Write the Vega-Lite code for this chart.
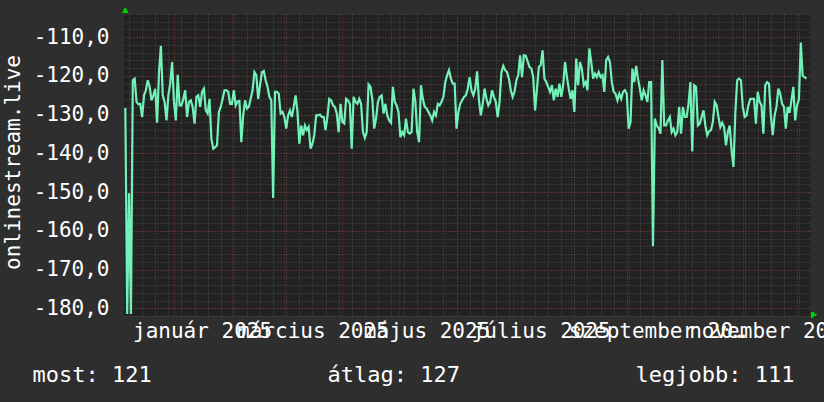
{
  "$schema": "https://vega.github.io/schema/vega-lite/v6.json",
  "width": 686,
  "height": 302,
  "autosize": "none",
  "padding": {"left": 124, "top": 14, "right": 14, "bottom": 86},
  "background": "#2e2e2e",
  "config": {
    "view": {"fill": "#222222", "stroke": null},
    "font": "DejaVu Sans Mono",
    "axis": {
      "labelFont": "DejaVu Sans Mono",
      "titleFont": "DejaVu Sans Mono",
      "labelColor": "#ffffff",
      "titleColor": "#ffffff",
      "labelFontSize": 21,
      "titleFontSize": 21,
      "titleFontWeight": "normal",
      "domain": false,
      "ticks": false
    }
  },
  "data": {
    "values": [
      {"date": "2024-12-06", "v": -128.3},
      {"date": "2024-12-07", "v": -181.5},
      {"date": "2024-12-08", "v": -150.3},
      {"date": "2024-12-09", "v": -181.5},
      {"date": "2024-12-10", "v": -121.1},
      {"date": "2024-12-11", "v": -120.7},
      {"date": "2024-12-12", "v": -126.7},
      {"date": "2024-12-13", "v": -127.3},
      {"date": "2024-12-14", "v": -127.2},
      {"date": "2024-12-15", "v": -130.6},
      {"date": "2024-12-16", "v": -125.0},
      {"date": "2024-12-17", "v": -123.7},
      {"date": "2024-12-18", "v": -121.1},
      {"date": "2024-12-19", "v": -122.8},
      {"date": "2024-12-20", "v": -126.3},
      {"date": "2024-12-21", "v": -125.0},
      {"date": "2024-12-22", "v": -123.3},
      {"date": "2024-12-23", "v": -132.1},
      {"date": "2024-12-24", "v": -119.0},
      {"date": "2024-12-25", "v": -112.2},
      {"date": "2024-12-26", "v": -125.0},
      {"date": "2024-12-27", "v": -126.7},
      {"date": "2024-12-28", "v": -131.5},
      {"date": "2024-12-29", "v": -125.0},
      {"date": "2024-12-30", "v": -122.0},
      {"date": "2024-12-31", "v": -116.4},
      {"date": "2025-01-01", "v": -126.7},
      {"date": "2025-01-02", "v": -131.5},
      {"date": "2025-01-03", "v": -119.7},
      {"date": "2025-01-04", "v": -127.6},
      {"date": "2025-01-05", "v": -127.6},
      {"date": "2025-01-06", "v": -125.9},
      {"date": "2025-01-07", "v": -123.7},
      {"date": "2025-01-08", "v": -130.6},
      {"date": "2025-01-09", "v": -126.7},
      {"date": "2025-01-10", "v": -126.3},
      {"date": "2025-01-11", "v": -128.0},
      {"date": "2025-01-12", "v": -132.3},
      {"date": "2025-01-13", "v": -125.4},
      {"date": "2025-01-14", "v": -125.0},
      {"date": "2025-01-15", "v": -128.0},
      {"date": "2025-01-16", "v": -124.1},
      {"date": "2025-01-17", "v": -123.3},
      {"date": "2025-01-18", "v": -128.9},
      {"date": "2025-01-19", "v": -129.7},
      {"date": "2025-01-20", "v": -125.9},
      {"date": "2025-01-21", "v": -136.2},
      {"date": "2025-01-22", "v": -138.8},
      {"date": "2025-01-23", "v": -138.4},
      {"date": "2025-01-24", "v": -137.9},
      {"date": "2025-01-25", "v": -129.3},
      {"date": "2025-01-26", "v": -128.0},
      {"date": "2025-01-27", "v": -125.9},
      {"date": "2025-01-28", "v": -123.7},
      {"date": "2025-01-29", "v": -123.7},
      {"date": "2025-01-30", "v": -124.1},
      {"date": "2025-01-31", "v": -127.2},
      {"date": "2025-02-01", "v": -127.2},
      {"date": "2025-02-02", "v": -123.7},
      {"date": "2025-02-03", "v": -127.6},
      {"date": "2025-02-04", "v": -126.6},
      {"date": "2025-02-05", "v": -126.5},
      {"date": "2025-02-06", "v": -137.1},
      {"date": "2025-02-07", "v": -130.2},
      {"date": "2025-02-08", "v": -126.3},
      {"date": "2025-02-09", "v": -128.4},
      {"date": "2025-02-10", "v": -128.0},
      {"date": "2025-02-11", "v": -125.9},
      {"date": "2025-02-12", "v": -123.7},
      {"date": "2025-02-13", "v": -119.0},
      {"date": "2025-02-14", "v": -119.8},
      {"date": "2025-02-15", "v": -125.9},
      {"date": "2025-02-16", "v": -122.4},
      {"date": "2025-02-17", "v": -119.0},
      {"date": "2025-02-18", "v": -118.7},
      {"date": "2025-02-19", "v": -121.1},
      {"date": "2025-02-20", "v": -122.8},
      {"date": "2025-02-21", "v": -125.4},
      {"date": "2025-02-22", "v": -126.3},
      {"date": "2025-02-23", "v": -151.5},
      {"date": "2025-02-24", "v": -124.1},
      {"date": "2025-02-25", "v": -124.1},
      {"date": "2025-02-26", "v": -124.6},
      {"date": "2025-02-27", "v": -129.7},
      {"date": "2025-02-28", "v": -129.3},
      {"date": "2025-03-01", "v": -130.6},
      {"date": "2025-03-02", "v": -133.6},
      {"date": "2025-03-03", "v": -130.2},
      {"date": "2025-03-04", "v": -128.9},
      {"date": "2025-03-05", "v": -130.6},
      {"date": "2025-03-06", "v": -128.0},
      {"date": "2025-03-07", "v": -125.0},
      {"date": "2025-03-08", "v": -129.3},
      {"date": "2025-03-09", "v": -137.5},
      {"date": "2025-03-10", "v": -132.8},
      {"date": "2025-03-11", "v": -135.3},
      {"date": "2025-03-12", "v": -132.8},
      {"date": "2025-03-13", "v": -134.0},
      {"date": "2025-03-14", "v": -133.2},
      {"date": "2025-03-15", "v": -138.8},
      {"date": "2025-03-16", "v": -137.5},
      {"date": "2025-03-17", "v": -135.3},
      {"date": "2025-03-18", "v": -130.2},
      {"date": "2025-03-19", "v": -130.2},
      {"date": "2025-03-20", "v": -130.0},
      {"date": "2025-03-21", "v": -130.6},
      {"date": "2025-03-22", "v": -130.6},
      {"date": "2025-03-23", "v": -134.0},
      {"date": "2025-03-24", "v": -130.6},
      {"date": "2025-03-25", "v": -125.9},
      {"date": "2025-03-26", "v": -126.3},
      {"date": "2025-03-27", "v": -127.6},
      {"date": "2025-03-28", "v": -128.0},
      {"date": "2025-03-29", "v": -129.7},
      {"date": "2025-03-30", "v": -134.5},
      {"date": "2025-03-31", "v": -127.2},
      {"date": "2025-04-01", "v": -131.9},
      {"date": "2025-04-02", "v": -132.3},
      {"date": "2025-04-03", "v": -125.9},
      {"date": "2025-04-04", "v": -126.3},
      {"date": "2025-04-05", "v": -127.2},
      {"date": "2025-04-06", "v": -138.8},
      {"date": "2025-04-07", "v": -125.4},
      {"date": "2025-04-08", "v": -126.7},
      {"date": "2025-04-09", "v": -127.2},
      {"date": "2025-04-10", "v": -125.9},
      {"date": "2025-04-11", "v": -127.2},
      {"date": "2025-04-12", "v": -134.5},
      {"date": "2025-04-13", "v": -136.0},
      {"date": "2025-04-14", "v": -134.5},
      {"date": "2025-04-15", "v": -122.2},
      {"date": "2025-04-16", "v": -122.8},
      {"date": "2025-04-17", "v": -125.9},
      {"date": "2025-04-18", "v": -133.6},
      {"date": "2025-04-19", "v": -131.0},
      {"date": "2025-04-20", "v": -126.7},
      {"date": "2025-04-21", "v": -125.4},
      {"date": "2025-04-22", "v": -125.0},
      {"date": "2025-04-23", "v": -129.7},
      {"date": "2025-04-24", "v": -127.2},
      {"date": "2025-04-25", "v": -130.2},
      {"date": "2025-04-26", "v": -131.5},
      {"date": "2025-04-27", "v": -132.1},
      {"date": "2025-04-28", "v": -122.8},
      {"date": "2025-04-29", "v": -126.7},
      {"date": "2025-04-30", "v": -127.6},
      {"date": "2025-05-01", "v": -129.3},
      {"date": "2025-05-02", "v": -135.8},
      {"date": "2025-05-03", "v": -134.5},
      {"date": "2025-05-04", "v": -135.3},
      {"date": "2025-05-05", "v": -131.0},
      {"date": "2025-05-06", "v": -134.5},
      {"date": "2025-05-07", "v": -134.9},
      {"date": "2025-05-08", "v": -134.5},
      {"date": "2025-05-09", "v": -123.3},
      {"date": "2025-05-10", "v": -126.7},
      {"date": "2025-05-11", "v": -134.5},
      {"date": "2025-05-12", "v": -137.1},
      {"date": "2025-05-13", "v": -122.4},
      {"date": "2025-05-14", "v": -125.9},
      {"date": "2025-05-15", "v": -128.0},
      {"date": "2025-05-16", "v": -128.4},
      {"date": "2025-05-17", "v": -129.3},
      {"date": "2025-05-18", "v": -130.2},
      {"date": "2025-05-19", "v": -131.5},
      {"date": "2025-05-20", "v": -129.3},
      {"date": "2025-05-21", "v": -130.2},
      {"date": "2025-05-22", "v": -127.2},
      {"date": "2025-05-23", "v": -127.6},
      {"date": "2025-05-24", "v": -126.7},
      {"date": "2025-05-25", "v": -125.4},
      {"date": "2025-05-26", "v": -121.6},
      {"date": "2025-05-27", "v": -119.8},
      {"date": "2025-05-28", "v": -118.5},
      {"date": "2025-05-29", "v": -120.7},
      {"date": "2025-05-30", "v": -122.0},
      {"date": "2025-05-31", "v": -122.0},
      {"date": "2025-06-01", "v": -133.6},
      {"date": "2025-06-02", "v": -129.3},
      {"date": "2025-06-03", "v": -127.2},
      {"date": "2025-06-04", "v": -126.3},
      {"date": "2025-06-05", "v": -125.4},
      {"date": "2025-06-06", "v": -125.0},
      {"date": "2025-06-07", "v": -123.3},
      {"date": "2025-06-08", "v": -120.3},
      {"date": "2025-06-09", "v": -123.7},
      {"date": "2025-06-10", "v": -125.0},
      {"date": "2025-06-11", "v": -123.3},
      {"date": "2025-06-12", "v": -118.8},
      {"date": "2025-06-13", "v": -126.3},
      {"date": "2025-06-14", "v": -130.2},
      {"date": "2025-06-15", "v": -127.2},
      {"date": "2025-06-16", "v": -123.3},
      {"date": "2025-06-17", "v": -125.9},
      {"date": "2025-06-18", "v": -127.6},
      {"date": "2025-06-19", "v": -126.7},
      {"date": "2025-06-20", "v": -123.7},
      {"date": "2025-06-21", "v": -125.4},
      {"date": "2025-06-22", "v": -126.7},
      {"date": "2025-06-23", "v": -130.6},
      {"date": "2025-06-24", "v": -126.7},
      {"date": "2025-06-25", "v": -119.0},
      {"date": "2025-06-26", "v": -117.4},
      {"date": "2025-06-27", "v": -118.5},
      {"date": "2025-06-28", "v": -119.0},
      {"date": "2025-06-29", "v": -120.7},
      {"date": "2025-06-30", "v": -123.7},
      {"date": "2025-07-01", "v": -125.4},
      {"date": "2025-07-02", "v": -124.1},
      {"date": "2025-07-03", "v": -121.1},
      {"date": "2025-07-04", "v": -119.8},
      {"date": "2025-07-05", "v": -114.7},
      {"date": "2025-07-06", "v": -120.3},
      {"date": "2025-07-07", "v": -114.7},
      {"date": "2025-07-08", "v": -114.8},
      {"date": "2025-07-09", "v": -116.2},
      {"date": "2025-07-10", "v": -117.7},
      {"date": "2025-07-11", "v": -118.1},
      {"date": "2025-07-12", "v": -120.3},
      {"date": "2025-07-13", "v": -128.9},
      {"date": "2025-07-14", "v": -123.3},
      {"date": "2025-07-15", "v": -117.7},
      {"date": "2025-07-16", "v": -117.2},
      {"date": "2025-07-17", "v": -113.4},
      {"date": "2025-07-18", "v": -120.7},
      {"date": "2025-07-19", "v": -121.6},
      {"date": "2025-07-20", "v": -122.8},
      {"date": "2025-07-21", "v": -124.1},
      {"date": "2025-07-22", "v": -122.4},
      {"date": "2025-07-23", "v": -126.3},
      {"date": "2025-07-24", "v": -123.3},
      {"date": "2025-07-25", "v": -125.4},
      {"date": "2025-07-26", "v": -122.0},
      {"date": "2025-07-27", "v": -125.4},
      {"date": "2025-07-28", "v": -122.4},
      {"date": "2025-07-29", "v": -116.4},
      {"date": "2025-07-30", "v": -120.3},
      {"date": "2025-07-31", "v": -123.3},
      {"date": "2025-08-01", "v": -125.9},
      {"date": "2025-08-02", "v": -123.7},
      {"date": "2025-08-03", "v": -129.3},
      {"date": "2025-08-04", "v": -115.5},
      {"date": "2025-08-05", "v": -122.4},
      {"date": "2025-08-06", "v": -116.4},
      {"date": "2025-08-07", "v": -118.1},
      {"date": "2025-08-08", "v": -122.4},
      {"date": "2025-08-09", "v": -121.6},
      {"date": "2025-08-10", "v": -123.7},
      {"date": "2025-08-11", "v": -112.9},
      {"date": "2025-08-12", "v": -116.4},
      {"date": "2025-08-13", "v": -120.7},
      {"date": "2025-08-14", "v": -119.4},
      {"date": "2025-08-15", "v": -120.3},
      {"date": "2025-08-16", "v": -119.0},
      {"date": "2025-08-17", "v": -120.3},
      {"date": "2025-08-18", "v": -119.8},
      {"date": "2025-08-19", "v": -124.1},
      {"date": "2025-08-20", "v": -115.9},
      {"date": "2025-08-21", "v": -115.1},
      {"date": "2025-08-22", "v": -116.4},
      {"date": "2025-08-23", "v": -121.6},
      {"date": "2025-08-24", "v": -124.1},
      {"date": "2025-08-25", "v": -124.6},
      {"date": "2025-08-26", "v": -126.3},
      {"date": "2025-08-27", "v": -124.6},
      {"date": "2025-08-28", "v": -125.9},
      {"date": "2025-08-29", "v": -124.1},
      {"date": "2025-08-30", "v": -123.7},
      {"date": "2025-08-31", "v": -124.6},
      {"date": "2025-09-01", "v": -133.6},
      {"date": "2025-09-02", "v": -131.9},
      {"date": "2025-09-03", "v": -118.1},
      {"date": "2025-09-04", "v": -121.6},
      {"date": "2025-09-05", "v": -117.4},
      {"date": "2025-09-06", "v": -120.7},
      {"date": "2025-09-07", "v": -123.3},
      {"date": "2025-09-08", "v": -126.3},
      {"date": "2025-09-09", "v": -123.7},
      {"date": "2025-09-10", "v": -125.0},
      {"date": "2025-09-11", "v": -126.7},
      {"date": "2025-09-12", "v": -121.6},
      {"date": "2025-09-13", "v": -121.6},
      {"date": "2025-09-14", "v": -164.0},
      {"date": "2025-09-15", "v": -131.0},
      {"date": "2025-09-16", "v": -132.8},
      {"date": "2025-09-17", "v": -133.5},
      {"date": "2025-09-18", "v": -134.9},
      {"date": "2025-09-19", "v": -115.9},
      {"date": "2025-09-20", "v": -132.8},
      {"date": "2025-09-21", "v": -132.8},
      {"date": "2025-09-22", "v": -131.5},
      {"date": "2025-09-23", "v": -130.6},
      {"date": "2025-09-24", "v": -134.5},
      {"date": "2025-09-25", "v": -133.6},
      {"date": "2025-09-26", "v": -135.3},
      {"date": "2025-09-27", "v": -134.5},
      {"date": "2025-09-28", "v": -128.0},
      {"date": "2025-09-29", "v": -134.9},
      {"date": "2025-09-30", "v": -128.0},
      {"date": "2025-10-01", "v": -130.6},
      {"date": "2025-10-02", "v": -130.6},
      {"date": "2025-10-03", "v": -127.2},
      {"date": "2025-10-04", "v": -121.6},
      {"date": "2025-10-05", "v": -139.5},
      {"date": "2025-10-06", "v": -122.4},
      {"date": "2025-10-07", "v": -122.8},
      {"date": "2025-10-08", "v": -132.8},
      {"date": "2025-10-09", "v": -132.3},
      {"date": "2025-10-10", "v": -130.6},
      {"date": "2025-10-11", "v": -128.9},
      {"date": "2025-10-12", "v": -132.8},
      {"date": "2025-10-13", "v": -135.3},
      {"date": "2025-10-14", "v": -134.3},
      {"date": "2025-10-15", "v": -134.0},
      {"date": "2025-10-16", "v": -131.9},
      {"date": "2025-10-17", "v": -126.7},
      {"date": "2025-10-18", "v": -127.6},
      {"date": "2025-10-19", "v": -130.6},
      {"date": "2025-10-20", "v": -133.2},
      {"date": "2025-10-21", "v": -132.1},
      {"date": "2025-10-22", "v": -133.2},
      {"date": "2025-10-23", "v": -137.9},
      {"date": "2025-10-24", "v": -134.5},
      {"date": "2025-10-25", "v": -132.8},
      {"date": "2025-10-26", "v": -139.2},
      {"date": "2025-10-27", "v": -143.5},
      {"date": "2025-10-28", "v": -129.7},
      {"date": "2025-10-29", "v": -121.1},
      {"date": "2025-10-30", "v": -120.7},
      {"date": "2025-10-31", "v": -121.1},
      {"date": "2025-11-01", "v": -128.0},
      {"date": "2025-11-02", "v": -130.6},
      {"date": "2025-11-03", "v": -130.2},
      {"date": "2025-11-04", "v": -127.6},
      {"date": "2025-11-05", "v": -125.9},
      {"date": "2025-11-06", "v": -125.9},
      {"date": "2025-11-07", "v": -125.9},
      {"date": "2025-11-08", "v": -132.3},
      {"date": "2025-11-09", "v": -124.1},
      {"date": "2025-11-10", "v": -126.7},
      {"date": "2025-11-11", "v": -127.6},
      {"date": "2025-11-12", "v": -134.9},
      {"date": "2025-11-13", "v": -122.4},
      {"date": "2025-11-14", "v": -121.6},
      {"date": "2025-11-15", "v": -122.0},
      {"date": "2025-11-16", "v": -130.2},
      {"date": "2025-11-17", "v": -135.3},
      {"date": "2025-11-18", "v": -130.2},
      {"date": "2025-11-19", "v": -128.0},
      {"date": "2025-11-20", "v": -123.3},
      {"date": "2025-11-21", "v": -124.6},
      {"date": "2025-11-22", "v": -127.2},
      {"date": "2025-11-23", "v": -128.0},
      {"date": "2025-11-24", "v": -133.6},
      {"date": "2025-11-25", "v": -128.0},
      {"date": "2025-11-26", "v": -129.5},
      {"date": "2025-11-27", "v": -126.3},
      {"date": "2025-11-28", "v": -122.8},
      {"date": "2025-11-29", "v": -131.5},
      {"date": "2025-11-30", "v": -127.6},
      {"date": "2025-12-01", "v": -126.0},
      {"date": "2025-12-02", "v": -111.4},
      {"date": "2025-12-03", "v": -120.0},
      {"date": "2025-12-04", "v": -120.3},
      {"date": "2025-12-05", "v": -120.7}
    ]
  },
  "layer": [
    {
      "mark": {"type": "line", "opacity": 0},
      "encoding": {
        "x": {
          "field": "date", "type": "temporal",
          "scale": {"type": "utc", "domain": [{"year": 2024, "month": 12, "date": 5, "hours": 7, "utc": true}, {"year": 2025, "month": 12, "date": 6, "hours": 22, "utc": true}], "nice": false},
          "axis": {
            "orient": "bottom", "labels": false, "grid": true, "gridColor": "#4e4e4e", "gridDash": [1, 2], "gridWidth": 1,
            "tickCount": {"interval": "week", "step": 1},
            "title": "most: 121", "titleX": -92, "titleY": 65.5, "titleAlign": "left", "titleAnchor": null, "titleBaseline": "alphabetic", "titleFontSize": 22
          }
        },
        "y": {
          "field": "v", "type": "quantitative",
          "scale": {"domain": [-182, -104], "nice": false, "zero": false},
          "axis": {
            "orient": "left", "labels": false, "title": null, "grid": true, "gridColor": "#4e4e4e", "gridDash": [1, 2], "gridWidth": 1,
            "values": [-182, -180, -178, -176, -174, -172, -170, -168, -166, -164, -162, -160, -158, -156, -154, -152, -150, -148, -146, -144, -142, -140, -138, -136, -134, -132, -130, -128, -126, -124, -122, -120, -118, -116, -114, -112, -110, -108, -106, -104]
          }
        }
      }
    },
    {
      "mark": {"type": "line", "opacity": 0},
      "encoding": {
        "x": {
          "field": "date", "type": "temporal",
          "scale": {"type": "utc", "domain": [{"year": 2024, "month": 12, "date": 5, "hours": 7, "utc": true}, {"year": 2025, "month": 12, "date": 6, "hours": 22, "utc": true}], "nice": false},
          "axis": {
            "orient": "bottom", "labels": false, "grid": true, "gridColor": "#7a3030", "gridDash": [1, 2], "gridWidth": 1,
            "tickCount": {"interval": "month", "step": 1},
            "title": "átlag: 127", "titleX": 203, "titleY": 65.5, "titleAlign": "left", "titleAnchor": null, "titleBaseline": "alphabetic", "titleFontSize": 22
          }
        },
        "y": {
          "field": "v", "type": "quantitative",
          "scale": {"domain": [-182, -104], "nice": false, "zero": false},
          "axis": {
            "orient": "left", "grid": true, "gridColor": "#7a3030", "gridDash": [1, 2], "gridWidth": 1,
            "values": [-180, -170, -160, -150, -140, -130, -120, -110],
            "labelExpr": "'-' + replace(format(abs(datum.value), '.1f'), '.', ',')",
            "labelPadding": 15, "labelBaseline": "middle",
            "title": "onlinestream.live", "titleAngle": -90, "titleX": -105, "titleY": 148, "titleAlign": "center", "titleBaseline": "alphabetic", "titleAnchor": null
          }
        }
      }
    },
    {
      "mark": {"type": "line", "color": "#72f2b8", "strokeWidth": 2.2},
      "encoding": {
        "x": {
          "field": "date", "type": "temporal",
          "scale": {"type": "utc", "domain": [{"year": 2024, "month": 12, "date": 5, "hours": 7, "utc": true}, {"year": 2025, "month": 12, "date": 6, "hours": 22, "utc": true}], "nice": false},
          "axis": {
            "orient": "bottom", "grid": false,
            "values": [
              {"year": 2025, "month": 1, "date": 16, "utc": true},
              {"year": 2025, "month": 3, "date": 16, "utc": true},
              {"year": 2025, "month": 5, "date": 16, "utc": true},
              {"year": 2025, "month": 7, "date": 16, "utc": true},
              {"year": 2025, "month": 9, "date": 16, "utc": true},
              {"year": 2025, "month": 11, "date": 16, "utc": true}
            ],
            "labelExpr": "['január','február','március','április','május','június','július','augusztus','szeptember','október','november','december'][utcmonth(datum.value)] + ' ' + utcyear(datum.value)",
            "labelOverlap": false, "labelBound": false, "labelFlush": false,
            "labelBaseline": "alphabetic", "labelPadding": 21.5, "labelAlign": "center",
            "title": "legjobb: 111", "titleX": 511, "titleY": 65.5, "titleAlign": "left", "titleAnchor": null, "titleBaseline": "alphabetic", "titleFontSize": 22
          }
        },
        "y": {
          "field": "v", "type": "quantitative",
          "scale": {"domain": [-182, -104], "nice": false, "zero": false},
          "axis": null
        }
      }
    },
    {
      "mark": {"type": "point", "shape": "triangle-up", "filled": true, "color": "#00d000", "opacity": 1, "size": 30},
      "encoding": {
        "x": {"datum": {"year": 2024, "month": 12, "date": 6, "utc": true}, "type": "temporal",
          "scale": {"type": "utc", "domain": [{"year": 2024, "month": 12, "date": 5, "hours": 7, "utc": true}, {"year": 2025, "month": 12, "date": 6, "hours": 22, "utc": true}], "nice": false},
          "axis": null},
        "y": {"datum": -103.1, "type": "quantitative", "scale": {"domain": [-182, -104], "nice": false, "zero": false}, "axis": null}
      }
    },
    {
      "mark": {"type": "point", "shape": "triangle-right", "filled": true, "color": "#00d000", "opacity": 1, "size": 30},
      "encoding": {
        "x": {"datum": {"year": 2025, "month": 12, "date": 9, "utc": true}, "type": "temporal",
          "scale": {"type": "utc", "domain": [{"year": 2024, "month": 12, "date": 5, "hours": 7, "utc": true}, {"year": 2025, "month": 12, "date": 6, "hours": 22, "utc": true}], "nice": false},
          "axis": null},
        "y": {"datum": -181.7, "type": "quantitative", "scale": {"domain": [-182, -104], "nice": false, "zero": false}, "axis": null}
      }
    }
  ],
  "resolve": {"axis": {"x": "independent", "y": "independent"}}
}
